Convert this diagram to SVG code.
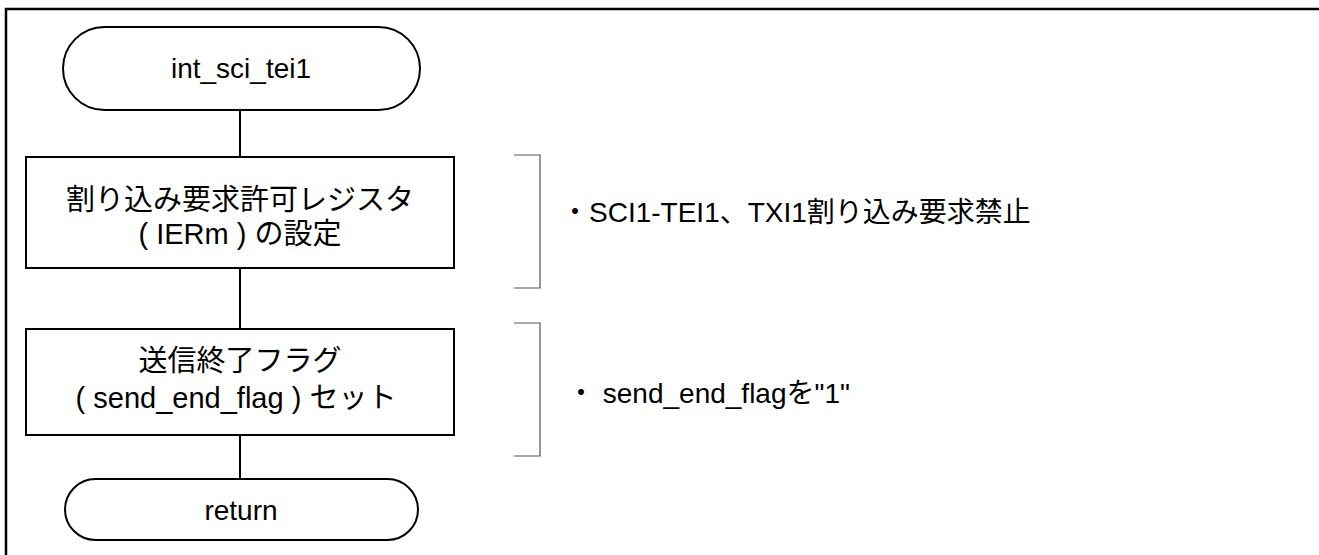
<svg xmlns="http://www.w3.org/2000/svg" width="1319" height="555" viewBox="0 0 1319 555">
<style>
.t{font-family:"Liberation Sans","Noto Sans CJK JP",sans-serif;font-size:28px;fill:#000}
.bx{font-size:29px}
.c{text-anchor:middle}
.n{fill:#fff;stroke:#000;stroke-width:2}
.e{fill:none;stroke:#000;stroke-width:2}
.b{fill:none;stroke:#555;stroke-width:1.2}
</style>
<rect width="1319" height="555" fill="#fff"/>
<path d="M6,555 V9 H1319" fill="none" stroke="#000" stroke-width="2.5"/>
<g id="connectors">
<line class="e" x1="240" y1="110" x2="240" y2="157"/>
<line class="e" x1="240" y1="268" x2="240" y2="329"/>
<line class="e" x1="240" y1="435" x2="240" y2="479"/>
</g>
<g id="start">
<rect class="n" x="63" y="27" width="357" height="83" rx="41.5" ry="41.5"/>
<text class="t c" x="241" y="78">int_sci_tei1</text>
</g>
<g id="ier">
<rect class="n" x="26" y="157" width="428" height="111"/>
<text class="t bx c" x="240" y="210">割り込み要求許可レジスタ</text>
<text class="t bx c" x="240" y="244">( IERm ) の設定</text>
</g>
<g id="flag">
<rect class="n" x="26" y="329" width="428" height="106"/>
<text class="t bx c" x="240" y="371">送信終了フラグ</text>
<text class="t bx c" x="236" y="408">( send_end_flag ) セット</text>
</g>
<g id="end">
<rect class="n" x="65" y="479" width="353" height="61" rx="30.5" ry="30.5"/>
<text class="t c" x="241" y="520">return</text>
</g>
<g id="note1">
<path class="b" d="M514,155 H540 V288 H514"/>
<text class="t" x="561" y="222">・SCI1-TEI1、TXI1割り込み要求禁止</text>
</g>
<g id="note2">
<path class="b" d="M514,323 H540 V456 H514"/>
<text class="t" x="567" y="403">・ send_end_flagを"1"</text>
</g>
</svg>
